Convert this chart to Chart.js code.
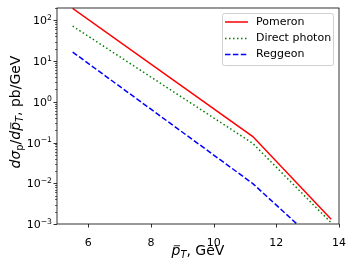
<!DOCTYPE html>
<html>
<head>
<meta charset="utf-8">
<script src="https://cdn.jsdelivr.net/npm/chart.js@4"></script>
<style>
  html, body { margin: 0; padding: 0; background: #fff; }
  #wrap { width: 354px; height: 266px; }
</style>
</head>
<body>
<div id="wrap"><canvas id="chart" width="354" height="266"></canvas></div>
<script>
// data
const ptX = [5.5, 11.25, 13.75];
const pomeron = [195, 0.14, 0.0013];
const directPhoton = [72, 0.095, 0.00107];
const reggeon = [16.6, 0.0098, 0.00017];
const seriesNames = ['Pomeron', 'Direct photon', 'Reggeon'];
const xTicks = [6, 8, 10, 12, 14];
const yTicks = [1e-3, 1e-2, 1e-1, 1, 10, 100];
const yTickExp = ['\u22123', '\u22122', '\u22121', '0', '1', '2'];

const FONT = '"DejaVu Sans"';

function pts(ys) {
    return ptX.map((x, i) => ({ x: x, y: ys[i] }));
}

// draw text runs with italics, subscripts and an overbar (mathtext-ish)
function segFont(s, size) {
    return (s.it ? 'italic ' : '') + (s.sub ? size * 0.7 : size) + 'px ' + FONT;
}
function richWidth(ctx, segs, size) {
    let w = 0;
    segs.forEach(s => { ctx.font = segFont(s, size); w += ctx.measureText(s.t).width; });
    return w;
}
function drawRich(ctx, segs, size, x, y) {
    let cx = x;
    segs.forEach(s => {
        ctx.font = segFont(s, size);
        const w = ctx.measureText(s.t).width;
        const by = y + (s.sub ? size * 0.22 : 0);
        ctx.fillText(s.t, cx, by);
        if (s.bar) {
            ctx.beginPath();
            ctx.lineWidth = size * 0.06;
            ctx.moveTo(cx + w * 0.25, by - size * 0.66);
            ctx.lineTo(cx + w * 0.95, by - size * 0.66);
            ctx.stroke();
        }
        cx += w;
    });
}

const yTitle = [
    { t: 'd\u03c3', it: true }, { t: 'p', sub: true }, { t: '/' },
    { t: 'd', it: true }, { t: 'p', it: true, bar: true }, { t: 'T', it: true, sub: true },
    { t: ', pb/GeV' }
];
const xTitle = [
    { t: 'p', it: true, bar: true }, { t: 'T', it: true, sub: true }, { t: ', GeV' }
];

const decor = {
    id: 'decor',
    afterDatasetsDraw(chart) {
        const ctx = chart.ctx;
        const a = chart.chartArea;
        const xs = chart.scales.x, ys = chart.scales.y;
        ctx.save();
        ctx.strokeStyle = '#000';
        ctx.fillStyle = '#000';

        // frame
        ctx.lineWidth = 0.8;
        ctx.strokeRect(a.left, a.top, a.right - a.left, a.bottom - a.top);

        // x ticks
        xTicks.forEach(v => {
            const px = Math.round(xs.getPixelForValue(v)) + 0.5;
            ctx.beginPath(); ctx.moveTo(px, a.bottom); ctx.lineTo(px, a.bottom + 3.5); ctx.stroke();
        });

        // y ticks, major + minor
        for (let e = -3; e <= 2; e++) {
            for (let m = 1; m <= 9; m++) {
                const v = m * Math.pow(10, e);
                if (v > ys.max) break;
                const py = Math.round(ys.getPixelForValue(v)) + 0.5;
                const len = m === 1 ? 3.5 : 2;
                ctx.lineWidth = m === 1 ? 0.8 : 0.6;
                ctx.beginPath(); ctx.moveTo(a.left, py); ctx.lineTo(a.left - len, py); ctx.stroke();
            }
        }

        // y tick labels 10^n
        ctx.textBaseline = 'alphabetic';
        yTicks.forEach((v, i) => {
            const py = ys.getPixelForValue(v);
            ctx.font = '7.7px ' + FONT;
            const we = ctx.measureText(yTickExp[i]).width;
            ctx.font = '11px ' + FONT;
            const wb = ctx.measureText('10').width;
            const right = a.left - 5;
            ctx.fillText('10', right - we - wb, py + 4);
            ctx.font = '7.7px ' + FONT;
            ctx.fillText(yTickExp[i], right - we, py - 0.5);
        });

        // axis titles
        const tsize = 14;
        const wx = richWidth(ctx, xTitle, tsize);
        drawRich(ctx, xTitle, tsize, (a.left + a.right) / 2 - wx / 2, 255);
        const wy = richWidth(ctx, yTitle, tsize);
        ctx.save();
        ctx.translate(20, 112);
        ctx.rotate(-Math.PI / 2);
        drawRich(ctx, yTitle, tsize, -wy / 2, 0);
        ctx.restore();

        // legend
        const lx = 222, ly = 13, lw = 111, lh = 52;
        ctx.beginPath();
        ctx.roundRect(lx + 0.5, ly + 0.5, lw, lh, 2);
        ctx.fillStyle = 'rgba(255,255,255,0.8)';
        ctx.fill();
        ctx.strokeStyle = '#d0d0d0';
        ctx.lineWidth = 1;
        ctx.stroke();
        const rows = [22, 38.5, 54.5];
        chart.data.datasets.forEach((ds, i) => {
            ctx.beginPath();
            ctx.strokeStyle = ds.borderColor;
            ctx.lineWidth = ds.borderWidth;
            ctx.setLineDash(ds.borderDash || []);
            ctx.moveTo(225, rows[i]); ctx.lineTo(248, rows[i]);
            ctx.stroke();
            ctx.setLineDash([]);
            ctx.fillStyle = '#000';
            ctx.font = '11px ' + FONT;
            ctx.textBaseline = 'middle';
            ctx.fillText(ds.label, 256, rows[i]);
        });
        ctx.restore();
    }
};

new Chart(document.getElementById('chart'), {
    type: 'line',
    data: {
        datasets: [
            { label: seriesNames[0], data: pts(pomeron), borderColor: '#ff0000', borderWidth: 1.5 },
            { label: seriesNames[1], data: pts(directPhoton), borderColor: '#008000', borderWidth: 1.5, borderDash: [1.5, 2.5] },
            { label: seriesNames[2], data: pts(reggeon), borderColor: '#0000ff', borderWidth: 1.5, borderDash: [5.5, 2.4] }
        ]
    },
    options: {
        responsive: false,
        animation: false,
        layout: { padding: { left: 0, top: 8, right: 15, bottom: 0 } },
        elements: { point: { radius: 0 }, line: { tension: 0 } },
        plugins: { legend: { display: false }, tooltip: { enabled: false } },
        scales: {
            x: {
                type: 'linear', min: 5, max: 14,
                afterBuildTicks: s => { s.ticks = xTicks.map(v => ({ value: v })); },
                afterFit: s => { s.height = 42; },
                grid: { display: false },
                border: { display: false },
                ticks: { color: '#000', font: { family: 'DejaVu Sans', size: 11 }, padding: 5, maxRotation: 0 }
            },
            y: {
                type: 'logarithmic', min: 1e-3, max: 200,
                afterBuildTicks: s => { s.ticks = yTicks.map(v => ({ value: v })); },
                afterFit: s => { s.width = 57; },
                grid: { display: false },
                border: { display: false },
                ticks: { display: false }
            }
        }
    },
    plugins: [decor]
});
</script>
</body>
</html>
